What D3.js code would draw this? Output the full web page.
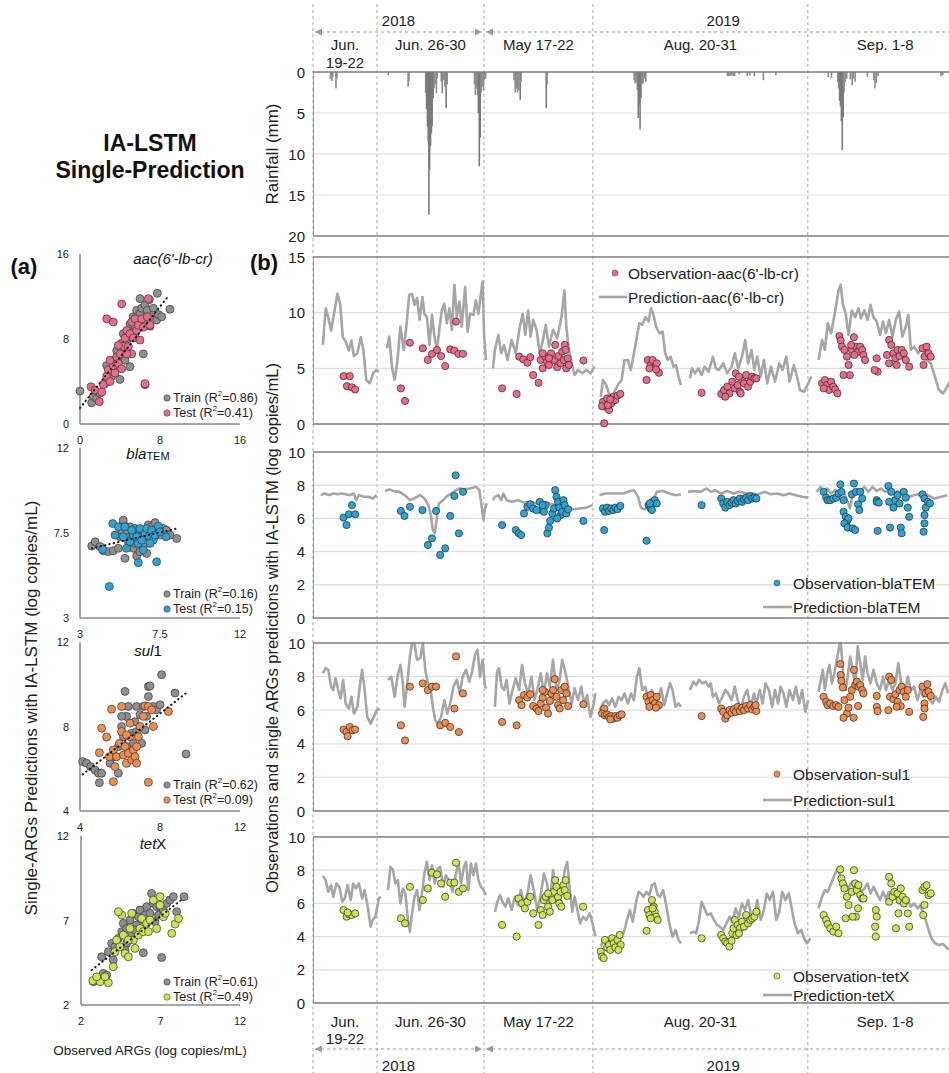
<!DOCTYPE html>
<html>
<head>
<meta charset="utf-8">
<script src="https://cdn.jsdelivr.net/npm/d3@7"></script>
<style>
  body { margin: 0; background: #fff; }
  svg { display: block; font-family: Arial, "Liberation Sans", sans-serif; }
</style>
</head>
<body>
<div id="chart"></div>
<script>
// ---- time axis (days from start of the stitched record) ----
const periodBounds = [0, 3.57, 9.53, 15.6, 27.58, 36.2];
const periodLabels = [['Jun.', '19-22'], ['Jun. 26-30'], ['May 17-22'], ['Aug. 20-31'], ['Sep. 1-8']];
const yearLabels = ['2018', '2019'];
const yearBounds = [0, 9.53, 36.2];

// ---- rainfall [day, mm] ----
const rainfall = [
  [0.98, 0.9], [1.05, 1.1], [1.1, 0.6], [1.28, 2.0], [1.33, 0.8], [4.2, 0.4], [5.3, 1.8], [5.35, 1.2],
  [6.28, 2.5], [6.33, 4.5], [6.38, 6.6], [6.42, 8.5], [6.46, 17.4], [6.5, 12.0], [6.55, 9.0], [6.6, 7.5],
  [6.64, 6.6], [6.7, 3.2], [6.75, 2.0], [6.8, 1.5], [6.88, 2.6], [6.92, 0.8],
  [7.15, 1.2], [7.2, 2.6], [7.28, 1.0], [7.35, 1.8], [7.42, 4.4], [7.48, 1.5],
  [9.0, 1.5], [9.05, 2.8], [9.12, 2.0], [9.18, 2.8], [9.22, 5.0], [9.27, 11.5], [9.32, 8.0], [9.37, 2.5],
  [9.42, 1.8], [9.5, 2.2], [9.55, 1.0], [9.62, 0.8],
  [11.2, 1.0], [11.27, 2.5], [11.33, 2.0], [11.4, 2.5], [11.47, 2.2], [11.55, 3.4], [11.6, 1.2],
  [13.0, 4.4], [13.05, 1.5],
  [17.9, 1.0], [17.95, 1.4], [18.02, 1.2], [18.08, 2.2], [18.13, 5.6], [18.18, 4.0], [18.23, 7.0],
  [18.28, 3.2], [18.35, 1.5], [18.4, 1.4], [18.48, 0.8], [18.55, 1.2],
  [23.1, 0.5], [23.18, 0.5], [23.25, 0.5], [23.33, 0.4], [23.42, 0.5], [23.5, 0.5], [23.75, 0.3],
  [24.2, 0.5], [24.35, 0.4], [24.6, 0.5], [25.1, 1.0], [25.8, 0.4],
  [28.72, 0.6], [28.9, 0.7], [29.25, 1.2], [29.3, 2.0], [29.35, 3.5], [29.4, 4.2], [29.45, 6.0],
  [29.5, 9.5], [29.55, 5.5], [29.6, 2.5], [29.67, 1.2], [29.75, 0.8],
  [29.95, 0.9], [30.05, 1.6], [30.12, 0.8], [30.22, 1.2],
  [30.9, 0.6], [31.25, 1.0], [31.32, 2.0], [31.4, 1.3], [31.5, 0.5], [35.0, 0.5], [35.1, 0.4]
];

// ---- predictions [day, log copies/mL], null = gap between periods ----
const aacPred = [
  [0.55, 7.1], [0.71, 10.4], [0.85, 9.6], [1.01, 8.4], [1.13, 9.5], [1.36, 11.7], [1.52, 10.7], [1.66, 7.8],
  [1.82, 7.4], [2.0, 6.6], [2.14, 7.5], [2.28, 6.1], [2.47, 6.35], [2.67, 7.8], [2.81, 6.6], [2.97, 3.95],
  [3.16, 3.65], [3.35, 4.55], [3.53, 4.85], [3.67, 4.7],
  null,
  [4.13, 6.8], [4.25, 7.85], [4.41, 5.0], [4.55, 3.95], [4.71, 5.75], [4.87, 8.75], [5.06, 6.65], [5.24, 9.35],
  [5.36, 11.6], [5.52, 11.7], [5.66, 10.7], [5.8, 11.3], [5.94, 9.35], [6.1, 11.4], [6.21, 9.9], [6.35, 9.6],
  [6.49, 7.1], [6.63, 9.8], [6.77, 7.85], [6.91, 6.65], [7.05, 8.6], [7.18, 10.2], [7.32, 10.8], [7.46, 9.05],
  [7.6, 10.4], [7.74, 8.45], [7.88, 12.5], [8.02, 9.6], [8.16, 11.0], [8.29, 8.75], [8.48, 12.3], [8.62, 8.3],
  [8.76, 9.9], [8.94, 9.8], [9.08, 11.1], [9.22, 9.9], [9.36, 11.7], [9.45, 12.8], [9.54, 7.85], [9.64, 5.75],
  null,
  [10.03, 5.0], [10.14, 6.65], [10.33, 8.0], [10.49, 6.35], [10.65, 7.1], [10.84, 5.75], [11.07, 7.55],
  [11.3, 6.35], [11.53, 8.75], [11.69, 9.9], [11.83, 8.0], [11.99, 10.2], [12.13, 7.85], [12.27, 9.35],
  [12.46, 8.45], [12.64, 6.35], [12.8, 7.4], [12.97, 8.9], [13.15, 6.95], [13.38, 8.45], [13.61, 7.7],
  [13.85, 9.6], [14.01, 12.0], [14.12, 8.75], [14.26, 6.65], [14.42, 5.45], [14.58, 4.4], [14.77, 4.85],
  [15.0, 4.55], [15.23, 4.85], [15.46, 4.55], [15.7, 5.15],
  null,
  [16.04, 2.45], [16.16, 3.95], [16.34, 3.5], [16.5, 2.75], [16.67, 2.45], [16.85, 3.05], [17.04, 3.65],
  [17.2, 3.95], [17.36, 5.75], [17.55, 5.75], [17.71, 4.85], [17.89, 6.35], [18.05, 7.85], [18.19, 9.05],
  [18.35, 8.9], [18.52, 9.6], [18.7, 9.2], [18.84, 10.4], [18.98, 9.8], [19.12, 8.75], [19.3, 8.15],
  [19.49, 8.3], [19.63, 6.35], [19.77, 5.75], [19.93, 6.05], [20.09, 5.15], [20.23, 5.3], [20.37, 4.25], [20.51, 3.5],
  null,
  [21.01, 4.1], [21.13, 5.0], [21.29, 4.55], [21.48, 5.0], [21.66, 4.4], [21.82, 5.15], [22.05, 4.7],
  [22.29, 6.05], [22.45, 5.0], [22.63, 4.85], [22.86, 5.45], [23.09, 4.55], [23.33, 5.15], [23.51, 6.35],
  [23.7, 5.0], [23.91, 6.05], [24.09, 7.55], [24.25, 5.45], [24.44, 6.65], [24.6, 4.85], [24.76, 6.05],
  [24.95, 4.25], [25.13, 5.75], [25.32, 3.65], [25.52, 5.15], [25.75, 3.8], [25.99, 5.45], [26.17, 4.85],
  [26.38, 6.05], [26.56, 3.8], [26.8, 5.3], [26.98, 4.25], [27.14, 3.05], [27.37, 2.9], [27.6, 3.65], [27.77, 4.25],
  null,
  [28.18, 5.75], [28.37, 7.55], [28.53, 6.65], [28.69, 9.05], [28.88, 8.15], [29.11, 10.2], [29.29, 12.0],
  [29.41, 12.5], [29.53, 10.8], [29.69, 9.9], [29.85, 8.0], [30.03, 10.2], [30.22, 9.6], [30.4, 10.4],
  [30.54, 9.5], [30.73, 10.2], [30.91, 9.35], [31.07, 10.7], [31.24, 9.6], [31.42, 9.2], [31.61, 8.0],
  [31.77, 9.2], [31.93, 8.15], [32.11, 9.35], [32.3, 7.85], [32.48, 9.35], [32.67, 10.1], [32.85, 7.85],
  [33.04, 8.75], [33.18, 9.8], [33.32, 6.65], [33.5, 6.95], [33.73, 6.35], [33.97, 6.95], [34.2, 5.75],
  [34.43, 5.45], [34.66, 4.25], [34.89, 3.05], [35.12, 2.75], [35.35, 3.35], [35.54, 3.95]
];

const blaPred = [
  [0.43, 7.4], [0.66, 7.5], [0.89, 7.4], [1.13, 7.5], [1.36, 7.45], [1.59, 7.5], [1.82, 7.45], [2.05, 7.4],
  [2.28, 7.5], [2.4, 7.1], [2.56, 7.4], [2.86, 7.3], [3.09, 7.3], [3.32, 7.2], [3.55, 7.4],
  null,
  [4.02, 7.65], [4.25, 7.75], [4.48, 7.65], [4.83, 7.6], [5.17, 7.35], [5.4, 7.1], [5.63, 7.2], [5.98, 7.4],
  [6.21, 7.2], [6.44, 6.8], [6.58, 6.1], [6.68, 5.3], [6.79, 5.1], [6.91, 6.1], [7.02, 6.9], [7.25, 7.1],
  [7.48, 7.35], [7.72, 7.5], [7.95, 7.7], [8.18, 7.8], [8.41, 7.75], [8.76, 7.8], [9.1, 7.9], [9.27, 7.7],
  [9.38, 6.9], [9.5, 5.9], [9.59, 6.6], [9.68, 6.9],
  null,
  [10.03, 7.1], [10.14, 7.3], [10.33, 7.4], [10.49, 7.1], [10.61, 7.5], [10.79, 7.1], [11.07, 7.0],
  [11.42, 7.1], [11.76, 6.95], [12.11, 7.0], [12.46, 6.9], [12.8, 7.0], [13.15, 6.9], [13.5, 6.8],
  [13.85, 6.7], [14.19, 6.65], [14.54, 6.55], [14.89, 6.6], [15.23, 6.65], [15.58, 6.8],
  null,
  [15.97, 7.4], [16.27, 7.5], [16.62, 7.5], [16.97, 7.5], [17.31, 7.5], [17.66, 7.65], [17.89, 7.7],
  [18.12, 7.3], [18.28, 6.65], [18.47, 6.55], [18.7, 6.7], [18.93, 7.0], [19.16, 7.6], [19.51, 7.65],
  [19.86, 7.5], [20.21, 7.4], [20.51, 7.45],
  null,
  [20.9, 7.6], [21.25, 7.65], [21.59, 7.6], [21.94, 7.8], [22.17, 7.6], [22.4, 7.7], [22.75, 7.5],
  [23.09, 7.65], [23.44, 7.5], [23.79, 7.6], [24.14, 7.5], [24.48, 7.5], [24.83, 7.45], [25.18, 7.6],
  [25.52, 7.45], [25.87, 7.5], [26.22, 7.4], [26.56, 7.5], [26.91, 7.4], [27.26, 7.3], [27.6, 7.25],
  null,
  [28.07, 7.6], [28.3, 7.9], [28.46, 7.6], [28.65, 7.8], [28.88, 7.5], [29.11, 7.7], [29.34, 7.4],
  [29.57, 7.6], [29.8, 7.0], [29.92, 6.6], [30.08, 7.4], [30.26, 7.7], [30.5, 7.6], [30.73, 7.9],
  [30.96, 7.6], [31.19, 7.9], [31.42, 7.65], [31.65, 7.8], [31.88, 7.6], [32.11, 7.7], [32.35, 7.5],
  [32.58, 7.65], [32.81, 7.5], [33.04, 7.4], [33.27, 7.3], [33.5, 7.4], [33.73, 7.45], [33.97, 7.4],
  [34.2, 7.45], [34.43, 7.3], [34.66, 7.2], [35.01, 7.3], [35.35, 7.4]
];

const sulPred = [
  [0.55, 8.2], [0.71, 8.5], [0.85, 8.4], [1.01, 7.4], [1.13, 7.2], [1.26, 7.9], [1.4, 7.2], [1.54, 6.7],
  [1.68, 7.8], [1.82, 6.4], [2.0, 6.1], [2.14, 6.8], [2.28, 5.8], [2.47, 6.2], [2.63, 7.6], [2.74, 8.4],
  [2.88, 7.2], [3.02, 5.6], [3.21, 5.2], [3.39, 5.6], [3.55, 6.0], [3.72, 6.1],
  null,
  [4.18, 7.8], [4.36, 8.0], [4.55, 6.8], [4.71, 8.0], [4.87, 8.7], [5.01, 7.6], [5.1, 6.2], [5.24, 7.4],
  [5.4, 9.2], [5.52, 10.0], [5.66, 9.9], [5.8, 9.0], [5.98, 9.1], [6.12, 10.0], [6.26, 8.4], [6.4, 7.6],
  [6.56, 7.2], [6.68, 6.2], [6.81, 5.4], [6.95, 5.2], [7.14, 5.6], [7.32, 6.6], [7.48, 5.8], [7.65, 6.4],
  [7.83, 7.4], [8.02, 7.8], [8.18, 7.0], [8.34, 8.0], [8.53, 8.4], [8.71, 7.7], [8.87, 8.3], [9.03, 9.3],
  [9.17, 9.6], [9.31, 8.0], [9.45, 9.0], [9.59, 7.4], [9.68, 7.3],
  null,
  [10.14, 6.2], [10.26, 8.3], [10.37, 8.5], [10.51, 7.4], [10.65, 7.2], [10.79, 7.8], [10.95, 6.4],
  [11.12, 7.2], [11.3, 7.9], [11.49, 7.2], [11.65, 8.7], [11.81, 7.6], [11.99, 7.0], [12.18, 8.0],
  [12.34, 6.6], [12.5, 7.2], [12.69, 8.2], [12.87, 7.0], [13.04, 8.2], [13.2, 7.4], [13.38, 9.0],
  [13.57, 7.2], [13.73, 7.7], [13.89, 9.0], [14.08, 8.2], [14.26, 7.2], [14.42, 6.4], [14.58, 7.3],
  [14.77, 6.6], [14.95, 7.4], [15.12, 6.4], [15.28, 6.9], [15.46, 5.6], [15.65, 6.4], [15.74, 7.0],
  null,
  [15.97, 6.0], [16.16, 6.4], [16.34, 6.6], [16.5, 6.3], [16.67, 6.7], [16.85, 6.2], [17.04, 6.8],
  [17.2, 6.6], [17.36, 7.0], [17.55, 6.4], [17.73, 7.0], [17.89, 6.6], [18.05, 8.0], [18.19, 8.5],
  [18.35, 7.2], [18.52, 7.4], [18.7, 6.6], [18.89, 7.2], [19.05, 6.8], [19.21, 6.6], [19.4, 7.3],
  [19.58, 6.3], [19.74, 7.0], [19.9, 7.6], [20.04, 7.2], [20.21, 6.2], [20.37, 6.4], [20.51, 6.2],
  null,
  [21.01, 7.2], [21.2, 7.7], [21.36, 7.5], [21.52, 7.8], [21.71, 7.6], [21.89, 7.7], [22.05, 7.4],
  [22.17, 7.6], [22.29, 6.8], [22.45, 7.0], [22.63, 6.4], [22.82, 6.8], [22.98, 7.2], [23.14, 7.0],
  [23.33, 6.6], [23.51, 7.4], [23.67, 6.6], [23.84, 6.0], [24.02, 6.8], [24.2, 7.2], [24.39, 6.2],
  [24.58, 7.0], [24.71, 6.4], [24.9, 7.2], [25.06, 6.4], [25.22, 7.6], [25.41, 7.2], [25.59, 6.2],
  [25.75, 7.2], [25.92, 6.4], [26.06, 7.4], [26.22, 7.0], [26.38, 6.2], [26.56, 7.2], [26.75, 6.6],
  [26.91, 7.4], [27.1, 6.4], [27.26, 7.2], [27.44, 5.9], [27.6, 6.6],
  null,
  [28.18, 7.1], [28.3, 7.8], [28.41, 8.4], [28.53, 7.2], [28.65, 8.1], [28.79, 8.7], [28.92, 7.6],
  [29.06, 8.2], [29.23, 9.2], [29.34, 9.9], [29.41, 10.0], [29.48, 9.2], [29.57, 7.8], [29.69, 7.2],
  [29.8, 8.0], [29.94, 9.2], [30.08, 8.4], [30.22, 7.4], [30.36, 9.8], [30.5, 8.8], [30.64, 7.8],
  [30.77, 9.2], [30.91, 8.2], [31.07, 7.6], [31.24, 8.4], [31.42, 7.6], [31.61, 7.2], [31.77, 8.0],
  [31.93, 7.2], [32.11, 7.8], [32.3, 7.2], [32.46, 7.6], [32.62, 8.8], [32.81, 7.4], [33.0, 7.0],
  [33.15, 8.0], [33.32, 7.2], [33.5, 7.4], [33.69, 6.6], [33.85, 7.2], [34.01, 6.8], [34.2, 7.0],
  [34.38, 6.6], [34.54, 6.4], [34.71, 6.8], [34.89, 6.5], [35.08, 7.2], [35.24, 7.6], [35.4, 7.0]
];

const tetPred = [
  [0.55, 7.65], [0.71, 7.4], [0.85, 6.7], [1.01, 7.1], [1.13, 6.4], [1.31, 7.2], [1.47, 7.0], [1.63, 6.1],
  [1.77, 6.3], [1.93, 7.1], [2.1, 6.2], [2.24, 7.2], [2.4, 6.9], [2.56, 7.2], [2.74, 6.3], [2.88, 6.8],
  [3.02, 6.0], [3.21, 4.6], [3.32, 5.0], [3.48, 5.2], [3.67, 6.3], [3.78, 6.4],
  null,
  [4.18, 6.8], [4.32, 8.2], [4.46, 8.0], [4.59, 7.2], [4.73, 7.4], [4.87, 6.0], [5.01, 6.9], [5.15, 6.6],
  [5.29, 5.0], [5.4, 4.3], [5.52, 5.4], [5.66, 6.4], [5.8, 6.8], [5.94, 5.6], [6.1, 6.8], [6.21, 7.8],
  [6.35, 8.5], [6.49, 7.4], [6.63, 8.3], [6.79, 7.2], [6.95, 8.1], [7.09, 8.2], [7.25, 7.0], [7.41, 7.7],
  [7.6, 7.3], [7.78, 6.7], [7.95, 7.7], [8.11, 8.5], [8.25, 7.2], [8.41, 8.2], [8.53, 8.5], [8.66, 6.8],
  [8.8, 8.4], [8.94, 7.7], [9.08, 8.4], [9.22, 7.4], [9.36, 7.0], [9.5, 6.8], [9.64, 6.5],
  null,
  [10.14, 5.5], [10.28, 6.1], [10.42, 6.5], [10.56, 6.1], [10.72, 5.8], [10.88, 6.3], [11.07, 5.6],
  [11.25, 6.4], [11.42, 5.9], [11.58, 6.8], [11.76, 6.0], [11.95, 6.6], [12.13, 7.7], [12.32, 6.7],
  [12.5, 5.6], [12.69, 6.5], [12.87, 7.8], [13.04, 7.2], [13.2, 6.0], [13.38, 8.0], [13.57, 6.6],
  [13.73, 5.7], [13.89, 7.0], [14.03, 8.0], [14.17, 8.5], [14.31, 6.9], [14.45, 5.5], [14.58, 6.4],
  [14.72, 5.7], [14.89, 4.8], [15.05, 5.2], [15.23, 5.0], [15.42, 5.4], [15.58, 4.8], [15.74, 4.0],
  null,
  [16.04, 3.4], [16.2, 3.8], [16.39, 3.5], [16.57, 3.8], [16.76, 3.5], [16.97, 4.0], [17.13, 4.2],
  [17.31, 4.2], [17.5, 5.0], [17.66, 5.6], [17.82, 4.9], [18.01, 6.1], [18.15, 6.7], [18.28, 6.6],
  [18.42, 6.4], [18.59, 6.7], [18.75, 6.5], [18.89, 7.1], [19.05, 7.2], [19.21, 6.5], [19.35, 6.4],
  [19.51, 6.8], [19.67, 6.0], [19.86, 4.8], [20.04, 4.0], [20.21, 4.4], [20.37, 3.8], [20.51, 3.6],
  null,
  [21.01, 4.2], [21.2, 4.3], [21.36, 4.2], [21.52, 5.0], [21.66, 6.1], [21.82, 5.7], [21.98, 5.3],
  [22.17, 5.4], [22.35, 5.0], [22.52, 4.7], [22.68, 4.6], [22.86, 4.4], [23.05, 4.8], [23.21, 5.2],
  [23.37, 4.9], [23.56, 5.7], [23.74, 5.2], [23.91, 6.0], [24.07, 5.6], [24.25, 6.2], [24.44, 5.2],
  [24.6, 5.3], [24.76, 6.2], [24.95, 5.0], [25.13, 5.6], [25.29, 6.6], [25.45, 6.2], [25.64, 6.7],
  [25.82, 5.0], [25.99, 5.5], [26.15, 6.7], [26.33, 6.2], [26.52, 6.6], [26.68, 5.7], [26.84, 4.8],
  [27.03, 4.2], [27.21, 4.4], [27.37, 3.9], [27.54, 3.6], [27.72, 3.9],
  null,
  [28.18, 5.7], [28.37, 6.4], [28.53, 6.8], [28.69, 6.7], [28.88, 7.2], [29.06, 7.7], [29.23, 8.1],
  [29.34, 7.8], [29.53, 7.0], [29.69, 7.2], [29.85, 6.9], [30.03, 7.3], [30.22, 6.7], [30.38, 7.1],
  [30.54, 6.7], [30.73, 6.9], [30.91, 7.2], [31.07, 6.6], [31.24, 7.0], [31.42, 6.6], [31.61, 6.2],
  [31.77, 6.7], [31.93, 6.3], [32.11, 6.7], [32.3, 6.2], [32.46, 6.6], [32.62, 6.0], [32.81, 6.3],
  [33.0, 5.9], [33.15, 6.2], [33.32, 5.8], [33.5, 6.0], [33.69, 5.7], [33.85, 5.9], [34.01, 5.4],
  [34.15, 5.0], [34.31, 4.4], [34.47, 3.9], [34.66, 3.6], [34.89, 3.5], [35.12, 3.55], [35.35, 3.3], [35.54, 3.2]
];

// ---- observations [day, log copies/mL] ----
const aacObs = [
  [1.7, 4.3], [2.05, 4.3], [1.89, 3.4], [2.17, 3.3], [2.35, 3.1],
  [4.9, 3.2], [5.13, 2.07], [5.4, 7.3], [6.12, 6.8], [6.4, 5.75], [6.63, 6.3], [6.91, 6.65], [7.14, 6.1],
  [7.37, 5.2], [7.65, 6.7], [7.88, 6.6], [7.97, 9.2], [8.11, 6.3], [8.36, 6.3],
  [10.54, 3.2], [11.35, 2.7], [11.49, 6.05], [11.72, 5.8], [11.95, 5.5], [12.11, 6.0], [12.27, 4.4],
  [12.57, 3.7], [12.69, 5.75], [12.8, 5.0], [12.92, 6.1], [13.04, 5.6], [13.15, 5.3], [13.27, 6.35],
  [13.43, 5.75], [13.5, 7.1], [13.61, 5.1], [13.68, 6.1], [13.8, 5.45], [13.89, 6.5], [13.98, 5.75],
  [14.03, 7.1], [14.12, 5.0], [14.19, 5.9], [14.26, 5.3], [14.08, 6.65], [12.8, 6.35], [13.15, 5.9], [15.07, 5.7],
  [16.16, 2.0], [16.27, 1.55], [16.39, 2.3], [16.5, 1.25], [16.62, 1.85], [16.74, 2.45], [16.85, 2.15],
  [16.97, 2.55], [17.13, 2.7], [16.23, 0.06], [16.11, 1.6], [16.43, 1.7], [16.57, 2.2],
  [18.66, 5.75], [18.82, 5.3], [18.93, 5.75], [19.05, 5.1], [19.16, 5.45], [19.28, 4.6], [18.59, 3.95],
  [18.75, 5.0], [19.12, 4.9],
  [21.66, 2.8], [22.75, 2.7], [22.91, 3.05], [23.09, 3.35], [23.21, 2.75], [23.37, 3.8], [23.51, 3.2],
  [23.67, 3.5], [23.79, 2.9], [23.91, 3.95], [24.02, 3.65], [24.14, 4.4], [24.25, 3.35], [24.37, 3.8],
  [24.48, 4.25], [24.6, 4.1], [24.71, 4.1], [23.56, 4.55], [23.74, 4.25], [22.98, 2.45], [23.84, 2.75],
  [28.37, 3.65], [28.53, 3.95], [28.65, 3.5], [28.76, 3.05], [28.88, 3.8], [29.0, 3.35], [29.11, 3.1],
  [29.23, 2.75], [28.46, 3.2], [29.34, 7.9], [29.41, 7.5], [29.48, 6.95], [29.62, 6.65], [29.76, 6.05],
  [29.85, 5.3], [29.92, 4.4], [29.57, 4.4], [30.03, 6.65], [30.15, 7.8], [30.26, 6.95], [30.38, 6.5],
  [30.5, 6.95], [30.61, 6.65], [30.68, 6.2], [29.99, 7.1], [30.17, 6.2], [30.77, 5.75], [31.42, 5.9],
  [31.47, 4.7], [31.99, 6.2], [32.11, 7.55], [32.23, 7.1], [32.11, 5.45], [32.35, 6.35], [32.46, 5.9],
  [32.58, 6.65], [32.69, 6.1], [32.81, 6.65], [32.93, 6.35], [33.04, 5.75], [33.23, 5.15], [32.53, 5.3],
  [33.97, 6.8], [34.08, 6.05], [34.2, 6.95], [34.31, 6.35], [34.43, 6.05], [34.03, 5.3], [31.3, 4.85]
];

const blaObs = [
  [1.7, 6.05], [1.87, 5.6], [2.0, 6.25], [2.17, 6.8], [2.35, 6.25],
  [4.9, 6.45], [5.1, 6.15], [5.4, 6.7], [6.1, 6.5], [6.4, 4.4], [6.63, 4.8], [6.86, 6.45], [7.09, 3.8],
  [7.37, 4.2], [7.65, 6.15], [7.88, 7.35], [7.95, 8.6], [8.13, 5.1], [8.36, 7.6],
  [10.54, 5.6], [11.3, 5.3], [11.46, 5.1], [11.6, 5.0], [11.76, 6.3], [11.95, 6.7], [12.11, 6.85],
  [12.27, 6.6], [12.64, 7.0], [12.73, 6.5], [12.87, 6.4], [12.97, 6.8], [13.06, 5.1], [13.15, 5.45],
  [13.22, 5.85], [13.34, 6.3], [13.43, 6.6], [13.5, 7.7], [13.57, 7.3], [13.66, 7.0], [13.73, 6.65],
  [13.8, 6.2], [13.89, 6.4], [13.96, 7.1], [14.03, 6.8], [14.12, 6.3], [14.22, 6.55], [12.8, 6.8],
  [12.46, 6.5], [15.07, 5.85], [13.61, 6.0],
  [16.16, 6.6], [16.27, 6.4], [16.39, 6.65], [16.5, 6.45], [16.62, 6.6], [16.74, 6.5], [16.85, 6.65],
  [16.97, 6.55], [17.13, 6.75], [16.23, 5.3], [18.59, 4.65], [18.7, 6.8], [18.82, 6.6], [18.93, 7.0],
  [19.05, 7.1], [19.16, 6.9], [18.89, 6.5], [18.77, 6.9],
  [21.66, 6.8], [22.75, 7.2], [22.86, 6.9], [22.98, 6.65], [23.09, 7.0], [23.21, 6.8], [23.33, 6.95],
  [23.44, 7.1], [23.56, 6.9], [23.67, 7.05], [23.79, 7.2], [23.91, 7.0], [24.02, 7.15], [24.14, 7.25],
  [24.25, 7.1], [24.37, 7.35], [24.48, 7.2], [24.6, 7.25], [24.71, 7.2],
  [28.46, 7.6], [28.6, 7.25], [28.69, 7.1], [28.83, 7.1], [29.0, 7.2], [29.16, 7.25], [29.29, 7.5],
  [29.39, 8.05], [29.45, 7.6], [29.57, 6.4], [29.69, 6.1], [29.76, 5.85], [29.85, 6.0], [29.62, 5.7],
  [29.8, 5.45], [29.57, 7.1], [30.03, 7.45], [30.15, 8.1], [30.26, 7.6], [30.38, 6.85], [30.45, 6.5],
  [30.5, 7.6], [30.61, 7.2], [30.08, 5.4], [30.22, 5.3], [31.42, 7.1], [31.47, 5.25], [32.07, 7.95],
  [32.23, 7.6], [32.11, 7.0], [32.35, 6.65], [32.46, 7.1], [32.58, 7.4], [32.69, 6.9], [32.76, 5.45],
  [32.81, 5.1], [32.93, 7.6], [33.04, 7.25], [33.15, 6.65], [33.23, 6.1], [32.16, 5.45], [33.97, 7.45],
  [34.08, 7.2], [34.15, 6.65], [34.27, 7.0], [34.38, 6.9], [34.08, 6.2], [34.08, 5.7], [34.03, 5.2],
  [31.42, 7.0], [31.53, 6.95]
];

const sulObs = [
  [1.7, 4.85], [1.87, 4.7], [2.05, 5.0], [2.21, 4.8], [2.35, 4.85], [1.93, 4.45],
  [4.9, 5.1], [5.13, 4.2], [5.4, 7.4], [6.12, 7.6], [6.4, 7.2], [6.63, 7.4], [6.86, 7.4], [7.09, 5.1],
  [7.37, 5.25], [7.65, 5.0], [7.88, 6.1], [7.97, 9.2], [8.13, 4.7], [8.36, 7.0],
  [10.54, 5.3], [11.35, 5.1], [11.49, 6.6], [11.62, 6.3], [11.76, 6.9], [11.95, 6.75], [12.11, 6.95],
  [12.27, 6.25], [12.46, 6.1], [12.57, 5.95], [12.69, 6.4], [12.8, 6.75], [12.92, 7.1], [12.99, 6.15],
  [13.1, 5.8], [13.2, 6.55], [13.29, 7.0], [13.38, 7.2], [13.47, 7.85], [13.57, 6.8], [13.66, 6.3],
  [13.75, 6.1], [13.84, 7.2], [13.94, 6.6], [14.03, 7.4], [14.12, 7.0], [14.22, 6.25], [12.8, 7.2], [15.07, 6.35],
  [16.23, 6.1], [16.11, 5.8], [16.27, 5.7], [16.39, 5.75], [16.5, 5.6], [16.62, 5.65], [16.74, 5.5],
  [16.85, 5.65], [16.97, 5.55], [17.09, 5.7], [17.2, 5.75], [16.57, 5.45],
  [18.59, 6.8], [18.7, 6.5], [18.82, 6.9], [18.93, 6.6], [19.05, 6.4], [19.16, 6.8], [19.28, 6.3],
  [18.75, 6.2], [19.12, 6.15],
  [21.66, 5.65], [22.75, 6.1], [22.86, 5.9], [22.98, 5.5], [23.09, 5.7], [23.21, 6.0], [23.33, 5.85],
  [23.44, 6.05], [23.56, 5.9], [23.67, 6.2], [23.79, 5.95], [23.91, 6.15], [24.02, 6.0], [24.14, 6.25],
  [24.25, 6.1], [24.37, 6.3], [24.48, 6.05], [24.6, 6.2], [24.71, 5.95], [24.67, 6.3],
  [28.46, 6.8], [28.6, 6.5], [28.69, 6.3], [28.83, 6.4], [29.0, 6.25], [29.16, 6.3], [29.29, 6.2],
  [29.39, 8.75], [29.41, 8.1], [29.45, 7.75], [29.53, 7.35], [29.62, 6.6], [29.76, 5.8], [29.57, 5.55],
  [29.85, 6.15], [29.94, 6.8], [30.03, 7.2], [30.15, 8.4], [30.22, 7.5], [30.13, 5.55], [30.31, 7.7],
  [30.4, 7.4], [30.5, 7.5], [30.61, 7.2], [30.68, 7.0], [30.38, 6.25], [31.42, 6.85], [31.42, 6.2],
  [31.47, 5.95], [32.11, 8.0], [32.23, 7.8], [32.16, 6.8], [32.07, 6.0], [32.35, 6.65], [32.46, 6.95],
  [32.58, 6.5], [32.69, 7.2], [32.76, 6.25], [32.81, 7.4], [32.93, 7.1], [33.04, 6.8], [33.15, 7.2],
  [33.23, 5.9], [32.53, 6.2], [33.97, 7.4], [34.08, 6.4], [34.15, 7.0], [34.24, 7.55], [34.31, 7.1],
  [34.43, 6.85], [34.01, 5.6], [34.08, 6.1]
];

const tetObs = [
  [1.7, 5.6], [1.87, 5.2], [2.0, 5.35], [2.17, 5.3], [2.35, 5.4], [1.93, 5.45],
  [4.9, 5.1], [5.13, 4.8], [5.4, 7.0], [6.12, 6.2], [6.4, 6.9], [6.63, 7.85], [6.91, 7.75], [7.14, 7.2],
  [7.37, 6.4], [7.65, 7.25], [7.88, 7.25], [7.97, 8.45], [8.13, 6.7], [8.36, 6.9],
  [10.54, 4.7], [11.35, 4.0], [11.46, 6.3], [11.65, 6.0], [11.81, 5.7], [11.95, 6.1], [12.11, 6.4],
  [12.27, 5.4], [12.57, 4.7], [12.69, 5.6], [12.8, 5.3], [12.87, 6.2], [12.97, 6.4], [13.1, 5.8],
  [13.2, 5.5], [13.27, 6.5], [13.34, 6.2], [13.43, 6.7], [13.5, 7.4], [13.57, 7.0], [13.66, 6.4],
  [13.73, 6.0], [13.8, 6.7], [13.84, 5.8], [13.96, 7.1], [14.03, 6.8], [14.08, 7.4], [14.17, 6.45],
  [13.1, 6.6], [15.05, 5.8],
  [16.04, 3.1], [16.11, 2.8], [16.2, 2.7], [16.27, 3.8], [16.39, 3.35], [16.5, 3.5], [16.57, 3.2],
  [16.67, 3.9], [16.76, 3.6], [16.85, 3.35], [16.97, 3.8], [17.09, 4.1], [17.15, 3.5], [17.02, 3.2],
  [18.59, 4.35], [18.66, 5.6], [18.75, 5.3], [18.89, 6.2], [18.98, 5.8], [19.05, 5.5], [19.12, 5.2],
  [19.21, 5.0], [18.82, 5.1], [18.93, 5.7],
  [21.66, 3.9], [22.75, 4.1], [22.86, 3.9], [22.98, 3.7], [23.09, 3.6], [23.21, 3.4], [23.33, 3.75],
  [23.37, 4.2], [23.44, 4.5], [23.51, 5.0], [23.6, 4.1], [23.67, 4.7], [23.79, 4.5], [23.91, 4.9],
  [24.02, 4.6], [24.14, 5.3], [24.25, 4.8], [24.37, 5.0], [24.48, 5.1], [24.6, 5.2], [24.71, 5.5], [23.74, 4.2],
  [28.46, 5.3], [28.6, 5.0], [28.69, 4.75], [28.83, 4.5], [29.0, 4.3], [29.16, 4.6], [29.29, 4.2],
  [29.39, 8.05], [29.45, 7.5], [29.53, 7.2], [29.62, 6.9], [29.76, 6.4], [29.85, 5.9], [29.69, 5.1],
  [30.03, 6.7], [30.15, 8.0], [30.22, 7.2], [30.31, 6.8], [30.4, 7.1], [30.5, 6.5], [30.61, 6.3],
  [30.68, 6.3], [30.38, 5.7], [30.26, 5.2], [30.08, 5.2], [31.37, 5.6], [31.42, 5.2], [31.33, 4.6],
  [31.37, 4.0], [32.11, 7.6], [32.23, 7.2], [32.11, 6.1], [32.3, 6.4], [32.4, 6.7], [32.49, 4.5],
  [32.58, 6.6], [32.69, 6.2], [32.76, 6.9], [32.86, 6.4], [32.93, 6.0], [33.04, 6.2], [33.15, 5.4],
  [32.63, 5.4], [33.23, 4.6], [33.97, 6.8], [34.08, 7.0], [34.2, 7.1], [34.31, 6.5], [34.43, 6.6],
  [34.08, 5.9], [34.01, 5.3]
];

// ---- panel (a): observed vs predicted [observed, predicted] ----
const aacTrain = [
  [0, 3.1], [1.17, 2.0], [1.33, 2.6], [1.67, 2.4], [2.0, 2.9], [2.5, 3.8], [2.67, 5.5], [3.0, 5.1],
  [3.17, 4.5], [3.33, 6.0], [3.67, 6.9], [3.83, 6.3], [4.0, 4.2], [4.17, 7.6], [4.33, 8.5], [4.5, 6.9],
  [4.67, 7.9], [4.83, 8.8], [5.0, 9.4], [5.17, 8.2], [5.33, 10.1], [5.5, 9.2], [5.67, 10.7], [5.83, 9.8],
  [6.0, 10.4], [6.17, 10.9], [6.33, 9.6], [6.5, 11.2], [6.0, 11.8], [6.73, 10.7], [6.93, 11.7], [7.17, 10.1],
  [7.33, 10.9], [7.67, 9.8], [7.73, 12.3], [7.83, 10.3], [8.17, 10.1], [9.0, 10.8], [6.5, 3.7], [6.33, 6.6],
  [5.0, 5.4], [3.5, 5.2], [4.5, 6.0], [5.5, 8.2], [7.0, 9.2]
];
const aacTest = [
  [1.1, 3.5], [1.5, 3.2], [1.93, 2.1], [2.17, 3.0], [2.33, 3.7], [2.67, 4.5], [2.83, 5.1], [3.0, 4.0],
  [3.33, 5.5], [3.5, 4.8], [3.67, 6.3], [3.83, 5.7], [4.0, 6.6], [4.17, 5.2], [4.33, 7.3], [4.5, 8.1],
  [4.67, 8.8], [4.83, 7.3], [5.0, 8.5], [5.17, 9.6], [5.33, 8.1], [5.5, 9.9], [5.67, 8.8], [5.83, 9.3],
  [6.0, 7.9], [6.17, 9.9], [6.33, 9.1], [6.73, 10.1], [6.83, 11.8], [7.0, 9.3], [4.17, 11.3], [2.67, 9.9],
  [3.33, 9.6], [6.5, 3.8], [3.0, 6.0], [5.17, 6.6], [3.83, 7.4], [4.67, 6.6]
];
const blaTrain = [
  [3.66, 6.81], [3.85, 7.04], [4.13, 6.78], [4.31, 6.56], [4.59, 6.51], [4.87, 6.56], [5.16, 6.69],
  [5.25, 7.3], [5.44, 8.0], [5.34, 7.65], [5.62, 7.65], [5.72, 7.04], [5.91, 7.39], [6.0, 6.69],
  [5.53, 6.16], [6.19, 6.28], [6.37, 6.51], [6.56, 6.78], [6.66, 7.3], [6.84, 7.93], [7.03, 7.83],
  [7.22, 8.05], [7.31, 7.65], [7.5, 7.39], [7.69, 7.74], [7.87, 7.65], [8.06, 7.39], [8.44, 7.21],
  [5.43, 8.18], [6.47, 7.65], [6.09, 6.95], [6.75, 6.42], [5.81, 7.83], [7.12, 7.21], [6.28, 7.3]
];
const blaTest = [
  [4.27, 6.63], [4.84, 8.0], [4.97, 7.39], [5.16, 7.83], [5.44, 7.3], [5.62, 6.69], [5.81, 7.04],
  [6.0, 7.39], [6.09, 7.74], [6.19, 7.3], [6.28, 6.95], [6.37, 7.74], [6.47, 7.12], [6.66, 7.48],
  [6.75, 7.74], [6.9, 7.34], [7.03, 7.65], [7.12, 7.12], [7.22, 7.39], [7.41, 7.86], [7.5, 7.56],
  [7.84, 7.3], [6.28, 5.93], [7.31, 5.98], [4.65, 4.67], [5.53, 7.83], [5.91, 7.65], [6.94, 6.95], [6.56, 6.6]
];
const sulTrain = [
  [4.13, 6.34], [4.33, 6.26], [4.53, 6.1], [4.75, 5.94], [4.92, 5.79], [5.08, 5.79], [4.97, 5.34],
  [5.5, 6.26], [5.75, 6.57], [5.92, 7.05], [6.08, 8.0], [6.17, 7.52], [6.25, 9.66], [6.33, 8.48],
  [6.42, 8.95], [6.58, 7.68], [6.75, 8.23], [6.83, 8.95], [7.0, 8.56], [7.17, 8.95], [7.25, 7.84],
  [7.42, 9.89], [7.5, 9.92], [7.42, 9.42], [7.67, 8.95], [7.83, 8.79], [8.0, 9.03], [8.08, 10.45],
  [8.75, 9.58], [9.3, 6.7], [6.5, 6.73], [7.08, 7.2], [6.67, 7.2], [6.33, 7.05], [6.08, 8.48],
  [6.83, 7.76], [7.33, 8.48], [5.92, 5.79]
];
const sulTest = [
  [4.97, 6.76], [5.08, 7.92], [5.33, 7.5], [5.58, 8.82], [5.47, 6.57], [5.67, 6.89], [5.75, 6.1],
  [5.83, 6.57], [5.97, 7.2], [6.08, 8.95], [6.17, 6.65], [6.25, 7.05], [6.33, 6.26], [6.42, 6.73],
  [6.5, 7.52], [6.58, 6.42], [6.67, 6.89], [6.75, 6.57], [6.83, 7.05], [6.92, 7.52], [7.0, 8.0],
  [7.17, 8.48], [7.25, 8.98], [7.42, 8.95], [7.58, 8.79], [7.67, 8.0], [5.67, 5.39], [7.42, 5.36],
  [8.42, 8.71], [6.08, 7.76], [6.5, 8.16], [6.33, 7.6], [6.83, 6.26]
];
const tetTrain = [
  [2.78, 3.38], [3.16, 3.48], [3.4, 3.87], [3.61, 3.77], [3.3, 4.85], [3.72, 5.15], [3.93, 5.64],
  [4.14, 5.45], [4.35, 5.94], [4.56, 6.34], [4.66, 6.83], [4.87, 6.53], [5.08, 7.03], [5.19, 6.24],
  [5.29, 7.42], [5.5, 6.73], [5.61, 7.22], [5.71, 7.62], [5.92, 7.03], [6.03, 7.32], [6.13, 7.82],
  [6.34, 7.42], [6.44, 8.6], [6.55, 8.01], [6.76, 7.82], [6.87, 7.32], [6.97, 7.82], [7.18, 7.62],
  [7.39, 8.01], [7.6, 8.21], [7.81, 8.41], [8.02, 7.52], [8.48, 8.41], [7.07, 4.81], [5.92, 5.09],
  [4.87, 5.64], [4.03, 4.66], [5.4, 6.44], [6.65, 6.93], [4.77, 5.25]
];
const tetTest = [
  [2.74, 3.44], [3.2, 3.38], [2.99, 3.67], [3.72, 3.32], [3.51, 3.67], [4.03, 4.27], [4.14, 5.15],
  [4.24, 5.84], [4.45, 5.45], [4.56, 7.32], [4.35, 7.52], [4.66, 6.14], [4.77, 5.05], [4.98, 4.85],
  [5.08, 6.53], [5.19, 7.42], [5.29, 5.84], [5.4, 5.35], [5.61, 6.14], [5.71, 6.53], [5.82, 7.12],
  [5.92, 6.34], [6.13, 6.83], [6.24, 6.34], [6.34, 7.03], [6.55, 8.21], [6.76, 6.53], [6.97, 7.91],
  [7.18, 7.22], [7.29, 7.42], [7.71, 6.24], [7.92, 6.79], [8.13, 7.12], [6.97, 8.41], [4.98, 5.84]
];

const argNames = ['aac(6\'-lb-cr)', 'blaTEM', 'sul1', 'tetX'];
const argColors = ['#ec6a86', '#2ba3d6', '#ef8c4e', '#cfe254'];
const trainR2 = ['0.86', '0.16', '0.62', '0.61'];
const testR2 = ['0.41', '0.15', '0.09', '0.49'];

// ---------------------------------------------------------------
const W = 949, H = 1073;
const FONT = 'Arial, "Liberation Sans", sans-serif';
const predColor = '#a6a6a6';
const frameColor = '#7f7f7f';
const gridColor = '#dedede';
const dashColor = '#9a9a9a';

const svg = d3.select('#chart').append('svg')
    .attr('width', W)
    .attr('height', H)
    .style('font-family', FONT);

const x = d3.scaleLinear().domain([0, 36.2]).range([313, 962.5]);

// Clip the right-hand panels at the image edge
svg.append('defs').append('clipPath').attr('id', 'rightClip')
    .append('rect').attr('x', 313).attr('y', 0).attr('width', 700).attr('height', H);

// Arrow markers for the year spans
const defs = svg.select('defs');
defs.append('marker')
    .attr('id', 'arrowEnd')
    .attr('viewBox', '0 -5 10 10')
    .attr('refX', 10).attr('refY', 0)
    .attr('markerWidth', 7).attr('markerHeight', 7)
    .attr('markerUnits', 'userSpaceOnUse')
    .attr('orient', 'auto')
    .append('path').attr('d', 'M0,-5L10,0L0,5Z').attr('fill', '#9a9a9a');
defs.append('marker')
    .attr('id', 'arrowStart')
    .attr('viewBox', '0 -5 10 10')
    .attr('refX', 0).attr('refY', 0)
    .attr('markerWidth', 7).attr('markerHeight', 7)
    .attr('markerUnits', 'userSpaceOnUse')
    .attr('orient', 'auto')
    .append('path').attr('d', 'M10,-5L0,0L10,5Z').attr('fill', '#9a9a9a');

// Period dividers (vertical dashed lines through everything)
svg.append('g')
    .selectAll('line')
    .data(periodBounds.slice(0, 5))
    .join('line')
    .attr('x1', d => x(d)).attr('x2', d => x(d))
    .attr('y1', 4).attr('y2', H)
    .attr('stroke', dashColor)
    .attr('stroke-width', 0.9)
    .attr('stroke-dasharray', '3,3');

// Year spans and period names, top and bottom
function drawHeader(yearY, arrowY, labelY, secondLineDy) {
    const g = svg.append('g').attr('clip-path', 'url(#rightClip)');
    yearLabels.forEach((label, i) => {
        const a = x(yearBounds[i]), b = x(yearBounds[i + 1]);
        g.append('line')
            .attr('x1', a + 2).attr('x2', b - 2)
            .attr('y1', arrowY).attr('y2', arrowY)
            .attr('stroke', dashColor)
            .attr('stroke-dasharray', '3,3')
            .attr('marker-start', 'url(#arrowStart)')
            .attr('marker-end', 'url(#arrowEnd)');
        svg.append('text')
            .attr('x', (a + b) / 2).attr('y', yearY)
            .attr('text-anchor', 'middle')
            .attr('dominant-baseline', 'central')
            .attr('font-size', 15).attr('fill', '#222')
            .text(label);
    });
    periodLabels.forEach((lines, i) => {
        const cx = (x(periodBounds[i]) + x(periodBounds[i + 1])) / 2;
        lines.forEach((t, j) => {
            svg.append('text')
                .attr('x', cx).attr('y', labelY + j * secondLineDy)
                .attr('text-anchor', 'middle')
                .attr('dominant-baseline', 'central')
                .attr('font-size', 15).attr('fill', '#222')
                .text(t);
        });
    });
}
drawHeader(20, 32, 44, 18);
drawHeader(1065, 1049, 1021, 17);

// ---- rainfall panel ----
const rainTop = 72, rainBottom = 236;
const yRain = d3.scaleLinear().domain([0, 20]).range([rainTop, rainBottom]);
const rainG = svg.append('g').attr('clip-path', 'url(#rightClip)');
rainG.selectAll('line.grid')
    .data([5, 10, 15])
    .join('line')
    .attr('x1', 313).attr('x2', 962)
    .attr('y1', d => yRain(d)).attr('y2', d => yRain(d))
    .attr('stroke', gridColor).attr('stroke-width', 1.2);
rainG.selectAll('rect.bar')
    .data(rainfall)
    .join('rect')
    .attr('x', d => x(d[0]) - 0.8)
    .attr('y', rainTop)
    .attr('width', 1.6)
    .attr('height', d => yRain(d[1]) - rainTop)
    .attr('fill', d => d[1] > 3 ? '#7a7a7a' : '#8c8c8c');
rainG.append('rect')
    .attr('x', 313).attr('y', rainTop)
    .attr('width', 650).attr('height', rainBottom - rainTop)
    .attr('fill', 'none').attr('stroke', frameColor).attr('stroke-width', 1.5);
svg.append('g')
    .selectAll('text')
    .data([0, 5, 10, 15, 20])
    .join('text')
    .attr('x', 305).attr('y', d => yRain(d))
    .attr('text-anchor', 'end')
    .attr('dominant-baseline', 'central')
    .attr('font-size', 15).attr('fill', '#222')
    .text(d => d);
svg.append('text')
    .attr('transform', `translate(272,${(rainTop + rainBottom) / 2}) rotate(-90)`)
    .attr('text-anchor', 'middle')
    .attr('dominant-baseline', 'central')
    .attr('font-size', 17).attr('fill', '#222')
    .text('Rainfall (mm)');

// ---- ARG time-series panels ----
const tsPanels = [
    { pred: aacPred, obs: aacObs, top: 257, bottom: 424, max: 15, ticks: [0, 5, 10, 15],
      legend: { cx: 615, tx: 628, lx: 599, y1: 273, y2: 297 } },
    { pred: blaPred, obs: blaObs, top: 452, bottom: 618, max: 10, ticks: [0, 2, 4, 6, 8, 10],
      legend: { cx: 777, tx: 793, lx: 763, y1: 583, y2: 607 } },
    { pred: sulPred, obs: sulObs, top: 643, bottom: 811, max: 10, ticks: [0, 2, 4, 6, 8, 10],
      legend: { cx: 777, tx: 793, lx: 763, y1: 774, y2: 800 } },
    { pred: tetPred, obs: tetObs, top: 837, bottom: 1003, max: 10, ticks: [0, 2, 4, 6, 8, 10],
      legend: { cx: 777, tx: 793, lx: 763, y1: 976, y2: 995 } }
];

tsPanels.forEach((p, i) => {
    const y = d3.scaleLinear().domain([0, p.max]).range([p.bottom, p.top]);
    const g = svg.append('g').attr('clip-path', 'url(#rightClip)');

    // gridlines
    g.selectAll('line.grid')
        .data(p.ticks.slice(1, -1))
        .join('line')
        .attr('x1', 313).attr('x2', 962)
        .attr('y1', d => y(d)).attr('y2', d => y(d))
        .attr('stroke', gridColor).attr('stroke-width', 1.2);

    // prediction line, broken between sampling periods
    const line = d3.line()
        .defined(d => d !== null)
        .x(d => x(d[0]))
        .y(d => y(d[1]));
    g.append('path')
        .datum(p.pred)
        .attr('d', line)
        .attr('fill', 'none')
        .attr('stroke', predColor)
        .attr('stroke-width', 2.6)
        .attr('stroke-linejoin', 'round');

    // frame
    g.append('rect')
        .attr('x', 313).attr('y', p.top)
        .attr('width', 650).attr('height', p.bottom - p.top)
        .attr('fill', 'none').attr('stroke', frameColor).attr('stroke-width', 1.5);

    // observations
    svg.append('g')
        .selectAll('circle')
        .data(p.obs)
        .join('circle')
        .attr('cx', d => x(d[0]))
        .attr('cy', d => y(d[1]))
        .attr('r', 3.6)
        .attr('fill', argColors[i])
        .attr('stroke', '#2b2b2b')
        .attr('stroke-width', 0.7);

    // y tick labels
    svg.append('g')
        .selectAll('text')
        .data(p.ticks)
        .join('text')
        .attr('x', 305).attr('y', d => y(d))
        .attr('text-anchor', 'end')
        .attr('dominant-baseline', 'central')
        .attr('font-size', 15).attr('fill', '#222')
        .text(d => d);

    // legend
    const L = p.legend;
    const name = argNames[i];
    svg.append('circle')
        .attr('cx', L.cx).attr('cy', L.y1).attr('r', 3)
        .attr('fill', argColors[i]).attr('stroke', '#444').attr('stroke-width', 0.6);
    svg.append('text')
        .attr('x', L.tx).attr('y', L.y1)
        .attr('dominant-baseline', 'central')
        .attr('font-size', 15.5).attr('fill', '#222')
        .text('Observation-' + name);
    svg.append('line')
        .attr('x1', L.lx).attr('x2', L.tx - 1)
        .attr('y1', L.y2).attr('y2', L.y2)
        .attr('stroke', predColor).attr('stroke-width', 2.6);
    svg.append('text')
        .attr('x', L.tx).attr('y', L.y2)
        .attr('dominant-baseline', 'central')
        .attr('font-size', 15.5).attr('fill', '#222')
        .text('Prediction-' + name);
});

svg.append('text')
    .attr('transform', 'translate(272,628) rotate(-90)')
    .attr('text-anchor', 'middle')
    .attr('dominant-baseline', 'central')
    .attr('font-size', 16.5).attr('fill', '#222')
    .text('Observations and single ARGs predictions with IA-LSTM (log copies/mL)');

// ---- panel (a): scatter plots ----
const scatterPanels = [
    { train: aacTrain, test: aacTest, dom: [0, 16], ticks: [0, 8, 16], xr: [80, 240], yr: [424, 254],
      trend: [[0, 1.5], [8.8, 12.0]], title: [['aac(6\'-lb-cr)', 'italic']], tx: 173, ty: 258, ly: [398, 413] },
    { train: blaTrain, test: blaTest, dom: [3, 12], ticks: [3, 7.5, 12], xr: [80, 240], yr: [618, 448],
      trend: [[3.66, 6.69], [8.44, 7.74]], title: [['bla', 'italic'], ['TEM', 'sub']], tx: 148, ty: 453, ly: [594, 609] },
    { train: sulTrain, test: sulTest, dom: [4, 12], ticks: [4, 8, 12], xr: [80, 240], yr: [811, 642],
      trend: [[4.13, 5.73], [9.33, 9.6]], title: [['sul', 'italic'], ['1', 'normal']], tx: 148, ty: 650, ly: [785, 800] },
    { train: tetTrain, test: tetTest, dom: [2, 12], ticks: [2, 7, 12], xr: [81, 240], yr: [1005, 836],
      trend: [[2.67, 4.07], [8.44, 8.31]], title: [['tet', 'italic'], ['X', 'normal']], tx: 153, ty: 843, ly: [982, 997] }
];

scatterPanels.forEach((s, i) => {
    const sx = d3.scaleLinear().domain(s.dom).range(s.xr);
    const sy = d3.scaleLinear().domain(s.dom).range(s.yr);
    const g = svg.append('g');

    // axes: left and bottom lines only
    g.append('line')
        .attr('x1', s.xr[0]).attr('x2', s.xr[0])
        .attr('y1', s.yr[1]).attr('y2', s.yr[0])
        .attr('stroke', '#8a8a8a').attr('stroke-width', 1.5);
    g.append('line')
        .attr('x1', s.xr[0]).attr('x2', s.xr[1])
        .attr('y1', s.yr[0]).attr('y2', s.yr[0])
        .attr('stroke', '#8a8a8a').attr('stroke-width', 1.5);

    g.selectAll('text.ytick')
        .data(s.ticks)
        .join('text')
        .attr('x', 69).attr('y', d => sy(d))
        .attr('text-anchor', 'end')
        .attr('dominant-baseline', 'central')
        .attr('font-size', 11).attr('fill', '#222')
        .text(d => d);
    g.selectAll('text.xtick')
        .data(s.ticks)
        .join('text')
        .attr('x', d => sx(d)).attr('y', s.yr[0] + 16)
        .attr('text-anchor', 'middle')
        .attr('dominant-baseline', 'central')
        .attr('font-size', 11).attr('fill', '#222')
        .text(d => d);

    // points: train first, test on top
    const dot = (data, fill) => g.append('g')
        .selectAll('circle')
        .data(data)
        .join('circle')
        .attr('cx', d => sx(d[0]))
        .attr('cy', d => sy(d[1]))
        .attr('r', 4)
        .attr('fill', fill)
        .attr('stroke', '#3a3a3a')
        .attr('stroke-width', 0.7);
    dot(s.train, '#8f8f8f');
    dot(s.test, argColors[i]);

    // dotted trend line
    g.append('line')
        .attr('x1', sx(s.trend[0][0])).attr('y1', sy(s.trend[0][1]))
        .attr('x2', sx(s.trend[1][0])).attr('y2', sy(s.trend[1][1]))
        .attr('stroke', '#1a1a1a').attr('stroke-width', 2)
        .attr('stroke-linecap', 'round')
        .attr('stroke-dasharray', '0.5,4');

    // gene title
    const t = g.append('text')
        .attr('x', s.tx).attr('y', s.ty)
        .attr('text-anchor', 'middle')
        .attr('dominant-baseline', 'central')
        .attr('font-size', 15).attr('fill', '#111');
    s.title.forEach(([txt, style]) => {
        const span = t.append('tspan').text(txt);
        if (style === 'italic') span.attr('font-style', 'italic');
        if (style === 'sub') span.attr('font-size', 11).attr('baseline-shift', '-25%');
    });

    // legend
    [['Train', trainR2[i], '#8f8f8f', s.ly[0]], ['Test', testR2[i], argColors[i], s.ly[1]]]
        .forEach(([lab, r2, fill, ly]) => {
            g.append('circle')
                .attr('cx', 167).attr('cy', ly).attr('r', 3.2)
                .attr('fill', fill).attr('stroke', '#444').attr('stroke-width', 0.6);
            const lt = g.append('text')
                .attr('x', 173).attr('y', ly)
                .attr('dominant-baseline', 'central')
                .attr('font-size', 12.5).attr('fill', '#222');
            lt.append('tspan').text(lab + ' (R');
            lt.append('tspan').text('2').attr('font-size', 8).attr('dy', -5);
            lt.append('tspan').text('=' + r2 + ')').attr('dy', 5);
        });
});

// titles and panel letters
svg.append('text')
    .attr('x', 150).attr('y', 143)
    .attr('text-anchor', 'middle').attr('dominant-baseline', 'central')
    .attr('font-size', 23).attr('font-weight', 'bold').attr('fill', '#111')
    .text('IA-LSTM');
svg.append('text')
    .attr('x', 150).attr('y', 170)
    .attr('text-anchor', 'middle').attr('dominant-baseline', 'central')
    .attr('font-size', 23).attr('font-weight', 'bold').attr('fill', '#111')
    .text('Single-Prediction');
svg.append('text')
    .attr('x', 24).attr('y', 266)
    .attr('text-anchor', 'middle').attr('dominant-baseline', 'central')
    .attr('font-size', 22).attr('font-weight', 'bold').attr('fill', '#111')
    .text('(a)');
svg.append('text')
    .attr('x', 264).attr('y', 262)
    .attr('text-anchor', 'middle').attr('dominant-baseline', 'central')
    .attr('font-size', 22).attr('font-weight', 'bold').attr('fill', '#111')
    .text('(b)');

svg.append('text')
    .attr('transform', 'translate(31,708) rotate(-90)')
    .attr('text-anchor', 'middle')
    .attr('dominant-baseline', 'central')
    .attr('font-size', 17).attr('fill', '#222')
    .text('Single-ARGs  Predictions with IA-LSTM (log copies/mL)');
svg.append('text')
    .attr('x', 150).attr('y', 1050)
    .attr('text-anchor', 'middle')
    .attr('dominant-baseline', 'central')
    .attr('font-size', 13.5).attr('fill', '#222')
    .text('Observed ARGs (log copies/mL)');
</script>
</body>
</html>
